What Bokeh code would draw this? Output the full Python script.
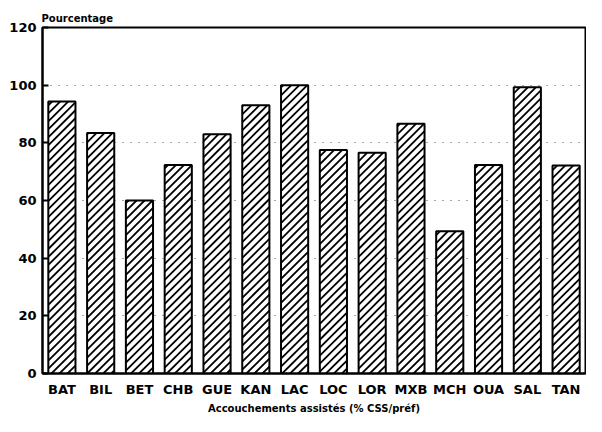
from bokeh.plotting import figure
from bokeh.models import Range1d, FactorRange, FixedTicker
from bokeh.embed import file_html
from bokeh.resources import INLINE

categories = ["BAT", "BIL", "BET", "CHB", "GUE", "KAN", "LAC",
              "LOC", "LOR", "MXB", "MCH", "OUA", "SAL", "TAN"]
values = [94.3, 83.4, 60.0, 72.3, 83.0, 93.0, 100.0,
          77.5, 76.6, 86.6, 49.3, 72.3, 99.3, 72.1]
y_ticks = [0, 20, 40, 60, 80, 100, 120]
grid_ticks = [20, 40, 60, 80, 100]
y_title = "Pourcentage"
x_title = "Accouchements assistés (% CSS/préf)"

FONT = "DejaVu Sans"
W, H = 586, 416
BL, BR, BT, BB = 42, 1, 27, 42
BAR_W = 0.7
Y_MAX = 120
HATCH_STEP = 8.0  # px, vertical spacing of the diagonal hatch lines

p = figure(width=W, height=H,
           x_range=FactorRange(factors=categories, range_padding=0),
           y_range=Range1d(0, Y_MAX),
           output_backend="svg", toolbar_location=None,
           title=y_title,
           min_border_left=BL, min_border_right=BR,
           min_border_top=BT, min_border_bottom=BB)

# white bar bodies
p.vbar(x=categories, top=values, width=BAR_W,
       fill_color="white", line_color=None)

# 45-degree hatch lines, clipped to each bar (computed in screen px, then mapped to data)
kx = (W - BL - BR) / len(categories)   # px per category
ky = (H - BT - BB) / Y_MAX              # px per unit
x0s, y0s, x1s, y1s = [], [], [], []
wpx = BAR_W * kx
for i, v in enumerate(values):
    hpx = v * ky
    left = i + 0.5 - BAR_W / 2
    c = -wpx + (i * 3.0) % HATCH_STEP
    while c < hpx:
        u0 = max(0.0, -c)
        u1 = min(wpx, hpx - c)
        if u1 > u0:
            x0s.append(left + u0 / kx)
            y0s.append((u0 + c) / ky)
            x1s.append(left + u1 / kx)
            y1s.append((u1 + c) / ky)
        c += HATCH_STEP
p.segment(x0=x0s, y0=y0s, x1=x1s, y1=y1s, line_color="black",
          line_width=1.8, line_cap="butt")

# bar outlines on top
p.vbar(x=categories, top=values, width=BAR_W,
       fill_color=None, line_color="black", line_width=2)

p.title.text_font = FONT
p.title.text_font_size = "10px"
p.title.text_font_style = "bold"
p.title.text_color = "black"
p.title.align = "left"
p.title.standoff = 8
p.title.offset = -1

p.outline_line_color = "black"
p.outline_line_width = 2
p.background_fill_color = "white"
p.border_fill_color = "white"

p.xgrid.grid_line_color = None
p.ygrid.ticker = FixedTicker(ticks=grid_ticks)
p.ygrid.grid_line_color = "black"
p.ygrid.grid_line_alpha = 0.7
p.ygrid.grid_line_dash = "1 7"
p.ygrid.grid_line_width = 1

p.yaxis.ticker = FixedTicker(ticks=y_ticks)
p.yaxis.axis_line_width = 2
p.yaxis.axis_line_color = "black"
p.yaxis.major_tick_in = 6
p.yaxis.major_tick_out = 0
p.yaxis.major_tick_line_width = 2
p.yaxis.minor_tick_line_color = None
p.yaxis.minor_tick_out = 0
p.yaxis.major_label_text_font = FONT
p.yaxis.major_label_text_font_size = "13px"
p.yaxis.major_label_text_font_style = "bold"
p.yaxis.major_label_text_color = "black"
p.yaxis.major_label_standoff = 6

p.xaxis.axis_line_width = 2
p.xaxis.axis_line_color = "black"
p.xaxis.major_tick_line_color = None
p.xaxis.major_tick_in = 0
p.xaxis.major_tick_out = 0
p.xaxis.minor_tick_line_color = None
p.xaxis.major_label_text_font = FONT
p.xaxis.major_label_text_font_size = "13px"
p.xaxis.major_label_text_font_style = "bold"
p.xaxis.major_label_text_color = "black"
p.xaxis.major_label_standoff = 8
p.xaxis.axis_label = x_title
p.xaxis.axis_label_text_font = FONT
p.xaxis.axis_label_text_font_size = "10px"
p.xaxis.axis_label_text_font_style = "bold"
p.xaxis.axis_label_text_color = "black"
p.xaxis.axis_label_standoff = 3

open("out.html", "w").write(file_html(p, INLINE))
